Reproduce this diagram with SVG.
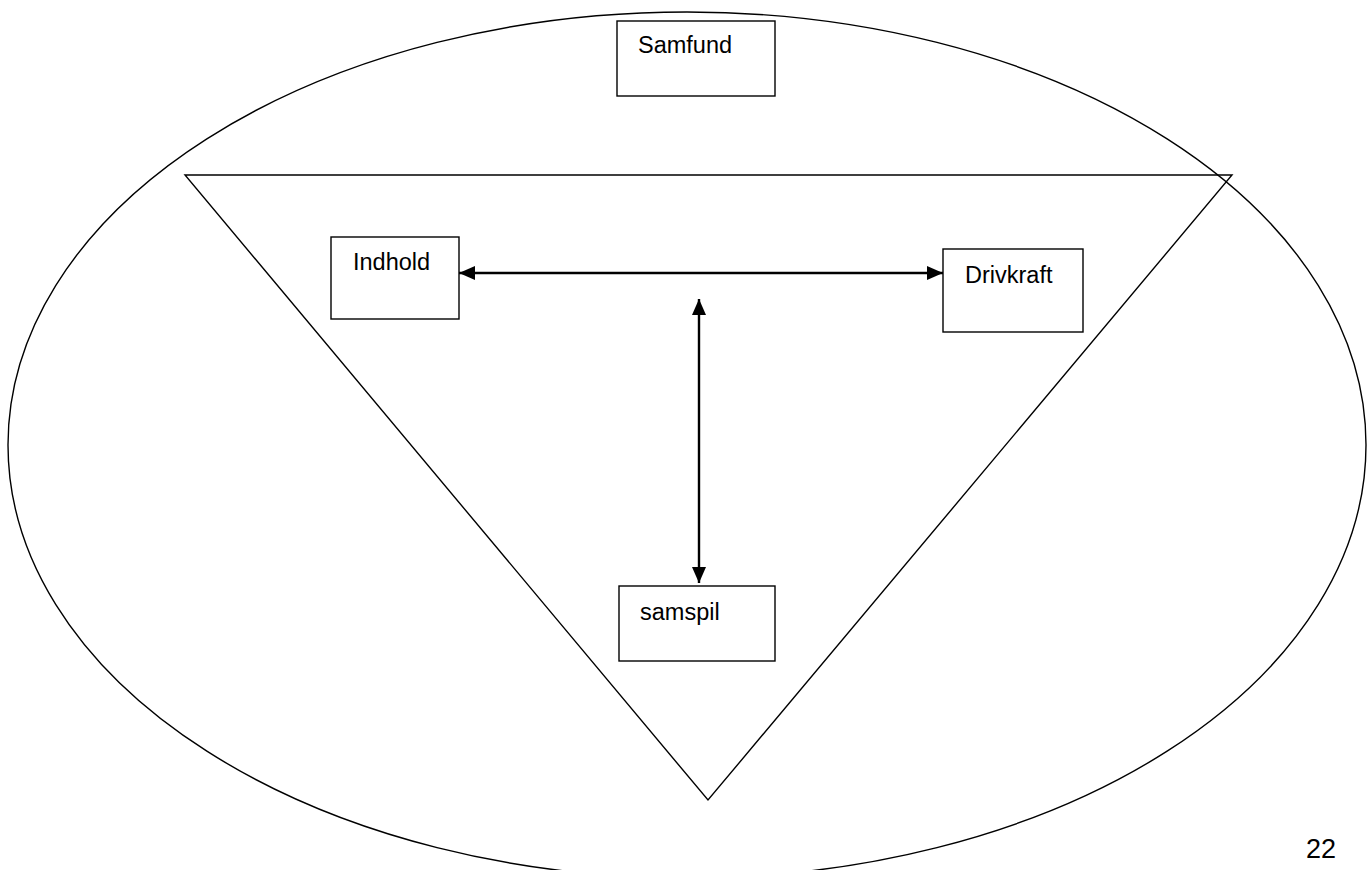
<svg xmlns="http://www.w3.org/2000/svg" width="1368" height="870" viewBox="0 0 1368 870">
  <style>
    .outline { fill: none; stroke: #000; stroke-width: 1.4; }
    .box { fill: #fff; stroke: #000; stroke-width: 1.4; }
    .label { font-family: "Liberation Sans", Arial, sans-serif; font-size: 23.5px; fill: #000; }
    .conn { stroke: #000; stroke-width: 2.4; fill: none; marker-start: url(#head); marker-end: url(#head); }
  </style>
  <defs>
    <marker id="head" viewBox="0 0 16 14" refX="16" refY="7" markerWidth="16" markerHeight="14" markerUnits="userSpaceOnUse" orient="auto-start-reverse">
      <path d="M0,0 L16,7 L0,14 Z" fill="#000"/>
    </marker>
  </defs>
  <rect width="1368" height="870" fill="#fff"/>

  <!-- society: outer ellipse -->
  <g id="samfund-ring">
    <ellipse class="outline" cx="687" cy="445" rx="679" ry="433"/>
  </g>

  <!-- inverted triangle -->
  <g id="triangle">
    <polygon class="outline" points="185,175 1232,175 708,800"/>
  </g>

  <g id="samfund">
    <rect class="box" x="617" y="21" width="158" height="75"/>
    <text class="label" x="638" y="53">Samfund</text>
  </g>

  <g id="indhold">
    <rect class="box" x="331" y="237" width="128" height="82"/>
    <text class="label" x="353" y="270">Indhold</text>
  </g>

  <g id="drivkraft">
    <rect class="box" x="943" y="249" width="140" height="83"/>
    <text class="label" x="965" y="283">Drivkraft</text>
  </g>

  <g id="samspil">
    <rect class="box" x="619" y="586" width="156" height="75"/>
    <text class="label" x="640" y="620">samspil</text>
  </g>

  <g id="connectors">
    <line class="conn" x1="459" y1="273" x2="943" y2="273"/>
    <line class="conn" x1="699" y1="299" x2="699" y2="583"/>
  </g>

  <g id="page-number">
    <text class="label" x="1336" y="858" text-anchor="end" style="font-size:27px">22</text>
  </g>
</svg>
